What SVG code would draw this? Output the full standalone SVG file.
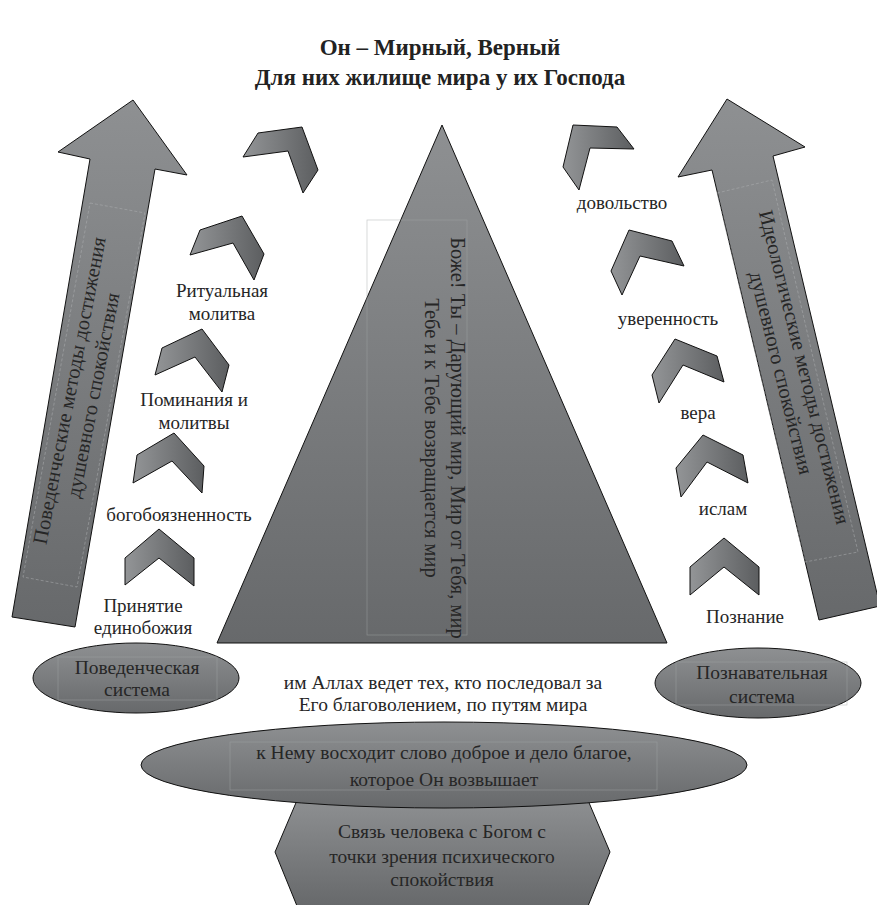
<svg xmlns="http://www.w3.org/2000/svg" width="877" height="905" viewBox="0 0 877 905">
<defs>
<linearGradient id="gv" x1="0" y1="0" x2="0" y2="1">
<stop offset="0" stop-color="#8e9092"/>
<stop offset="1" stop-color="#67696b"/>
</linearGradient>
<linearGradient id="gh" x1="0" y1="0" x2="1" y2="0">
<stop offset="0" stop-color="#939597"/>
<stop offset="1" stop-color="#5c5e60"/>
</linearGradient>
<style>
.shape{fill:url(#gv);stroke:#111;stroke-width:1}
.chev{fill:url(#gh);stroke:#111;stroke-width:1}
text{font-family:'Liberation Serif','Times New Roman',serif}
.t{font-size:19px;fill:#262626;text-anchor:middle}
.b{font-size:19.5px}
.big{font-size:20.5px}
.title{font-size:23px;font-weight:bold;fill:#222;text-anchor:middle}
.box{fill:none;stroke:#a4a6a8;stroke-width:0.7;opacity:0.6}
.dash{fill:none;stroke:#b0b2b4;stroke-width:0.7;stroke-dasharray:3 2;opacity:0.7}
</style>
</defs>
<rect width="877" height="905" fill="#fff"/>

<g id="title">
<text class="title" x="440" y="55">Он – Мирный, Верный</text>
<text class="title" x="440" y="85">Для них жилище мира у их Господа</text>
</g>

<g id="left-arrow">
<polygon class="shape" points="133,100 187,175 155,169 75,627 12,617 90,159 58,152"/>
<polygon class="dash" points="90,203 145,213 77,587 23,577"/>
<g transform="translate(82,393) rotate(-79)">
<text class="t big" x="0" y="-6">Поведенческие методы достижения</text>
<text class="t big" x="0" y="18">душевного спокойствия</text>
</g>
</g>

<g id="right-arrow">
<polygon class="shape" points="727,99 805,147 773,156 880,606 819,620 712,170 678,177"/>
<polygon class="dash" points="717,193 772,180 858,552 805,562"/>
<g transform="translate(793,370) rotate(76)">
<text class="t big" x="0" y="-5">Идеологические методы достижения</text>
<text class="t big" x="0" y="19">душевного спокойствия</text>
</g>
</g>

<g id="triangle">
<polygon class="shape" points="442,125 667,643 217,643"/>
<rect class="box" x="367" y="220" width="100" height="415"/>
<g transform="translate(444,438) rotate(90)">
<text class="t big" x="0" y="-7">Боже! Ты – Дарующий мир, Мир от Тебя, мир</text>
<text class="t big" x="0" y="19">Тебе и к Тебе возвращается мир</text>
</g>
</g>

<g id="left-steps">
<polygon class="chev" points="159,529 194,558 194,586 159,558 125,585 125,558"/>
<polygon class="chev" points="174,433 204,466 202,493 172,461 133,483 137,455"/>
<polygon class="chev" points="202,329 229,365 222,392 195,357 155,375 162,348"/>
<polygon class="chev" points="242,216 264,254 254,280 233,243 190,255 200,230"/>
<polygon class="chev" points="258,133 302,127 318,170 303,193 288,151 243,157"/>
</g>

<g id="right-steps">
<polygon class="chev" points="724,538 759,567 759,595 724,567 690,595 690,567"/>
<polygon class="chev" points="703,435 743,455 748,483 707,462 681,497 676,468"/>
<polygon class="chev" points="675,339 717,356 724,382 683,365 659,403 652,375"/>
<polygon class="chev" points="629,230 672,241 684,266 640,256 622,295 611,271"/>
<polygon class="chev" points="573,125 617,127 634,149 590,148 579,190 563,167"/>
</g>

<g id="left-labels">
<text class="t" x="222" y="297">Ритуальная</text>
<text class="t" x="222" y="320">молитва</text>
<text class="t" x="194" y="406">Поминания и</text>
<text class="t" x="194" y="429">молитвы</text>
<text class="t" x="179" y="521">богобоязненность</text>
<text class="t" x="143" y="612">Принятие</text>
<text class="t" x="143" y="634">единобожия</text>
</g>

<g id="right-labels">
<text class="t" x="622" y="209">довольство</text>
<text class="t" x="668" y="325">уверенность</text>
<text class="t" x="698" y="419">вера</text>
<text class="t" x="723" y="515">ислам</text>
<text class="t" x="745" y="623">Познание</text>
</g>

<g id="behavioral-system">
<ellipse class="shape" cx="136" cy="678" rx="103" ry="35"/>
<rect class="box" x="58" y="657" width="159" height="43"/>
<text class="t b" x="137" y="674">Поведенческая</text>
<text class="t b" x="137" y="696">система</text>
</g>

<g id="cognitive-system">
<ellipse class="shape" cx="758" cy="683" rx="103" ry="35"/>
<rect class="box" x="676" y="662" width="171" height="43"/>
<text class="t b" x="762" y="679">Познавательная</text>
<text class="t b" x="762" y="703">система</text>
</g>

<g id="middle-text">
<text class="t b" x="443" y="689">им Аллах ведет тех, кто последовал за</text>
<text class="t b" x="443" y="711">Его благоволением, по путям мира</text>
</g>

<g id="hexagon">
<polygon class="shape" points="298,798 587,798 610,852 588,906 297,906 275,852"/>
<text class="t b" x="442" y="838">Связь человека с Богом с</text>
<text class="t b" x="442" y="863">точки зрения психического</text>
<text class="t b" x="442" y="886">спокойствия</text>
</g>

<g id="big-ellipse">
<ellipse class="shape" cx="444" cy="765" rx="303" ry="43"/>
<rect class="box" x="230" y="742" width="427" height="48"/>
<text class="t b" x="444" y="759">к Нему восходит слово доброе и дело благое,</text>
<text class="t b" x="444" y="786">которое Он возвышает</text>
</g>
</svg>
